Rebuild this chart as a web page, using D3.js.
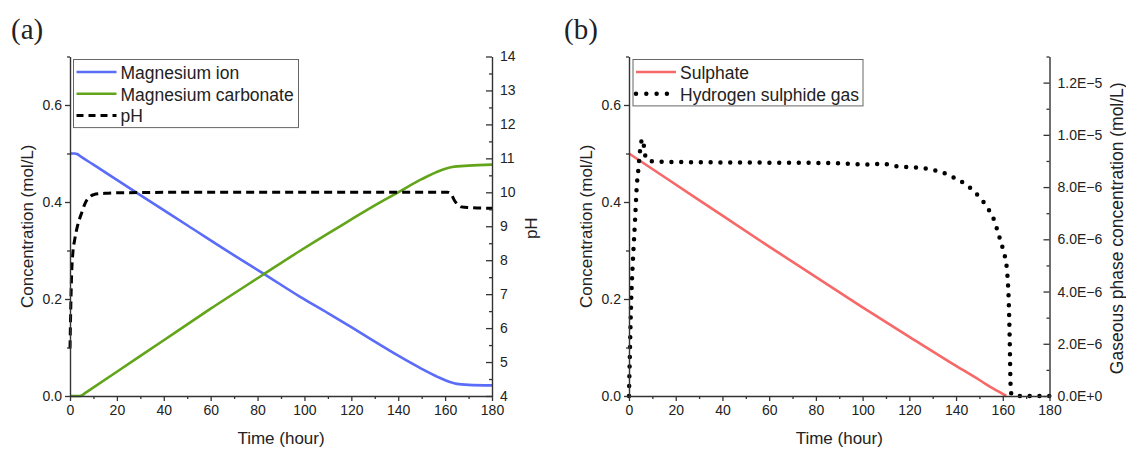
<!DOCTYPE html>
<html><head><meta charset="utf-8">
<script src="https://cdn.jsdelivr.net/npm/d3@7"></script>
<style>
body{margin:0;background:#fff;}
svg text{font-family:"Liberation Sans",Arial,sans-serif;fill:#222;}
</style>
</head><body>
<svg id="chart" width="1126" height="450"></svg>
<script>
// ---------- tick labels ----------
const timeTicks = [0,20,40,60,80,100,120,140,160,180];
const timeMinor = [10,30,50,70,90,110,130,150,170];
const concTicks = [0.0,0.2,0.4,0.6];
const concMinor = [0.1,0.3,0.5,0.7];
const pHTicks = [4,5,6,7,8,9,10,11,12,13,14];
const pHMinor = [4.5,5.5,6.5,7.5,8.5,9.5,10.5,11.5,12.5,13.5];
const gasTicks = [0,2e-6,4e-6,6e-6,8e-6,1.0e-5,1.2e-5];
const gasMinor = [1e-6,3e-6,5e-6,7e-6,9e-6,1.1e-5,1.3e-5];

// ---------- series (time in hours, value) ----------
const magnesiumIon = [[0,0.5],[2,0.5],[3,0.499],[4.5,0.494],[10,0.477],[30,0.414],[50,0.352],[70,0.29],[82,0.254],[98,0.205],[110,0.171],[120,0.142],[130,0.112],[140,0.083],[150,0.056],[157,0.039],[162,0.029],[165,0.025],[170,0.023],[180,0.022]];
const magnesiumCarbonate = [[0,0],[4,0],[5,0.001],[6,0.0045],[8,0.011],[20,0.05],[40,0.115],[60,0.18],[82,0.249],[98,0.299],[110,0.335],[120,0.364],[130,0.393],[140,0.42],[150,0.447],[158,0.465],[163,0.472],[170,0.475],[180,0.477]];
const pHValues = [[0,5.4],[0.3,6.5],[0.7,7.6],[1.2,8.2],[2,8.6],[3,8.95],[4,9.2],[5,9.4],[6,9.6],[7,9.75],[8.5,9.87],[10,9.93],[15,9.97],[25,9.99],[50,10],[100,10],[161,10],[162.5,9.95],[164,9.76],[165.5,9.63],[167,9.57],[170,9.55],[180,9.53]];
const sulphate = [[0,0.5],[30,0.404],[60,0.308],[99,0.186],[120,0.122],[140,0.062],[150,0.033],[156,0.015],[161.5,0]];
const hydrogenSulphideGas = [[0,0],[0.1,0.5e-6],[0.4,1.7e-6],[0.7,2.9e-6],[1.15,4.2e-6],[1.5,4.9e-6],[1.85,5.5e-6],[2.6,6.75e-6],[3.3,8.0e-6],[4.0,8.67e-6],[4.7,9.37e-6],[5.7,9.84e-6],[6.5,9.5e-6],[7.1,9.15e-6],[8.5,9.0e-6],[10.7,8.98e-6],[20,8.96e-6],[50,8.94e-6],[86,8.92e-6],[100,8.87e-6],[103,8.86e-6],[109,8.9e-6],[112,8.82e-6],[119,8.77e-6],[126,8.72e-6],[131,8.64e-6],[134.5,8.55e-6],[138,8.41e-6],[141.5,8.25e-6],[145,8.05e-6],[148,7.8e-6],[151,7.52e-6],[153.5,7.2e-6],[156,6.8e-6],[158.5,6.1e-6],[160,5.65e-6],[161,5.3e-6],[162,4.6e-6],[162.6,3.5e-6],[163,2.0e-6],[163.3,0.5e-6],[163.6,0.1e-6],[165,0],[180,0]];

const seriesNamesA = ["Magnesium ion","Magnesium carbonate","pH"];
const seriesNamesB = ["Sulphate","Hydrogen sulphide gas"];

// ---------- drawing ----------
const svg = d3.select("#chart");
const FONT = '"Liberation Sans",Arial,sans-serif';
const yTop = 56.5, yBot = 396;
const TICK_FS = 14, TITLE_FS = 17, LEG_FS = 17.5;

function sciFmt(d){
  if (d === 0) return "0.0E+0";
  const e = Math.floor(Math.log10(Math.abs(d)) + 1e-9);
  const m = d / Math.pow(10, e);
  return m.toFixed(1) + "E" + (e < 0 ? "\u2212" : "+") + Math.abs(e);
}

function styleAxis(g, size){
  g.attr("font-family", FONT).attr("font-size", size);
  g.select(".domain").attr("stroke", "#333").attr("stroke-width", 1.4);
  g.selectAll(".tick line").attr("stroke", "#333").attr("stroke-width", 1.3);
  g.selectAll(".tick text").attr("fill", "#222");
}

function panel(cfg){
  const x = d3.scaleLinear([0,180],[cfg.x0, cfg.x1]);
  const yL = d3.scaleLinear([0,0.7],[yBot, yTop]);
  const yR = d3.scaleLinear(cfg.rDomain,[yBot, yTop]);
  const g = svg.append("g");

  // data lines
  cfg.lines.forEach(s => {
    const ys = s.right ? yR : yL;
    const p = g.append("path").datum(s.data)
      .attr("fill","none").attr("stroke", s.color).attr("stroke-width", s.width)
      .attr("d", d3.line().x(d=>x(d[0])).y(d=>ys(d[1])).curve(d3.curveMonotoneX));
    if (s.dash) p.attr("stroke-dasharray", s.dash);
    if (s.cap) p.attr("stroke-linecap", s.cap);
  });

  // x axis
  g.append("g").attr("transform",`translate(0,${yBot})`)
    .call(d3.axisBottom(x).tickValues(timeMinor).tickSize(3).tickFormat(""))
    .call(a=>{a.select(".domain").remove(); styleAxis(a,TICK_FS);});
  g.append("g").attr("transform",`translate(0,${yBot})`)
    .call(d3.axisBottom(x).tickValues(timeTicks).tickSizeInner(5).tickSizeOuter(0).tickPadding(4).tickFormat(d3.format("d")))
    .call(a=>styleAxis(a,TICK_FS));

  // left axis
  g.append("g").attr("transform",`translate(${cfg.x0},0)`)
    .call(d3.axisLeft(yL).tickValues(concMinor).tickSize(3).tickFormat(""))
    .call(a=>{a.select(".domain").remove(); styleAxis(a,TICK_FS);});
  g.append("g").attr("transform",`translate(${cfg.x0},0)`)
    .call(d3.axisLeft(yL).tickValues(concTicks).tickSizeInner(5).tickSizeOuter(0).tickPadding(3).tickFormat(d3.format(".1f")))
    .call(a=>styleAxis(a,TICK_FS));

  // right axis (ticks pointing inward)
  g.append("g").attr("transform",`translate(${cfg.x1},0)`)
    .call(d3.axisRight(yR).tickValues(cfg.rMinor).tickSize(-3).tickFormat(""))
    .call(a=>{a.select(".domain").remove(); styleAxis(a,TICK_FS);});
  g.append("g").attr("transform",`translate(${cfg.x1},0)`)
    .call(d3.axisRight(yR).tickValues(cfg.rTicks).tickSizeInner(-6).tickSizeOuter(0).tickPadding(8).tickFormat(cfg.rFmt))
    .call(a=>styleAxis(a,TICK_FS));

  // axis titles
  const midY = (yTop + yBot) / 2;
  g.append("text").attr("transform",`translate(${cfg.x0-43},${midY}) rotate(-90)`)
    .attr("text-anchor","middle").attr("dominant-baseline","central")
    .attr("font-size",TITLE_FS).text("Concentration (mol/L)");
  g.append("text").attr("x",(cfg.x0+cfg.x1)/2).attr("y",444)
    .attr("text-anchor","middle").attr("font-size",TITLE_FS).text("Time (hour)");
  g.append("text").attr("transform",`translate(${cfg.rTitleX},${midY+2}) rotate(-90)`)
    .attr("text-anchor","middle").attr("dominant-baseline","central")
    .attr("font-size",cfg.rTitleSize).text(cfg.rTitle);

  // panel tag
  g.append("text").attr("x",cfg.tagX).attr("y",39)
    .attr("font-size",29).style("font-family",'"Liberation Serif","Times New Roman",serif')
    .text(cfg.tag);

  // legend
  const lg = g.append("g");
  lg.append("rect").attr("x",cfg.legX).attr("y",59.5).attr("width",cfg.legW).attr("height",cfg.lines.length*21.7+3)
    .attr("fill","#fff").attr("stroke","#666").attr("stroke-width",1);
  cfg.lines.forEach((s,i)=>{
    const cy = 72 + i*21.7;
    const l = lg.append("line").attr("x1",cfg.legX+3).attr("x2",cfg.legX+43)
      .attr("y1",cy).attr("y2",cy).attr("stroke",s.color).attr("stroke-width",s.width);
    if (s.dash) l.attr("stroke-dasharray", s.legDash || s.dash);
    if (s.cap) l.attr("stroke-linecap", s.cap);
    lg.append("text").attr("x",cfg.legX+47).attr("y",cy+1).attr("dominant-baseline","central")
      .attr("font-size",LEG_FS).text(s.name);
  });
}

panel({
  x0:70, x1:492, tag:"(a)", tagX:11,
  rDomain:[4,14], rTicks:pHTicks, rMinor:pHMinor, rFmt:d3.format("d"),
  rTitle:"pH", rTitleX:531, rTitleSize:TITLE_FS,
  legX:73.5, legW:225,
  lines:[
    {name:seriesNamesA[0], data:magnesiumIon, color:"#5a6cf8", width:2.6},
    {name:seriesNamesA[1], data:magnesiumCarbonate, color:"#62a51a", width:2.6},
    {name:seriesNamesA[2], data:pHValues, color:"#000", width:3, dash:"8,5", right:true, legDash:"7,5"}
  ]
});

panel({
  x0:629, x1:1049.5, tag:"(b)", tagX:564,
  rDomain:[0,1.3e-5], rTicks:gasTicks, rMinor:gasMinor, rFmt:sciFmt,
  rTitle:"Gaseous phase concentration (mol/L)", rTitleX:1117, rTitleSize:17.5,
  legX:633, legW:230,
  lines:[
    {name:seriesNamesB[0], data:sulphate, color:"#f76868", width:2.6},
    {name:seriesNamesB[1], data:hydrogenSulphideGas, color:"#000", width:4.5, dash:"0,9.8", cap:"round", right:true, legDash:"0,10.3"}
  ]
});
</script>
</body></html>
